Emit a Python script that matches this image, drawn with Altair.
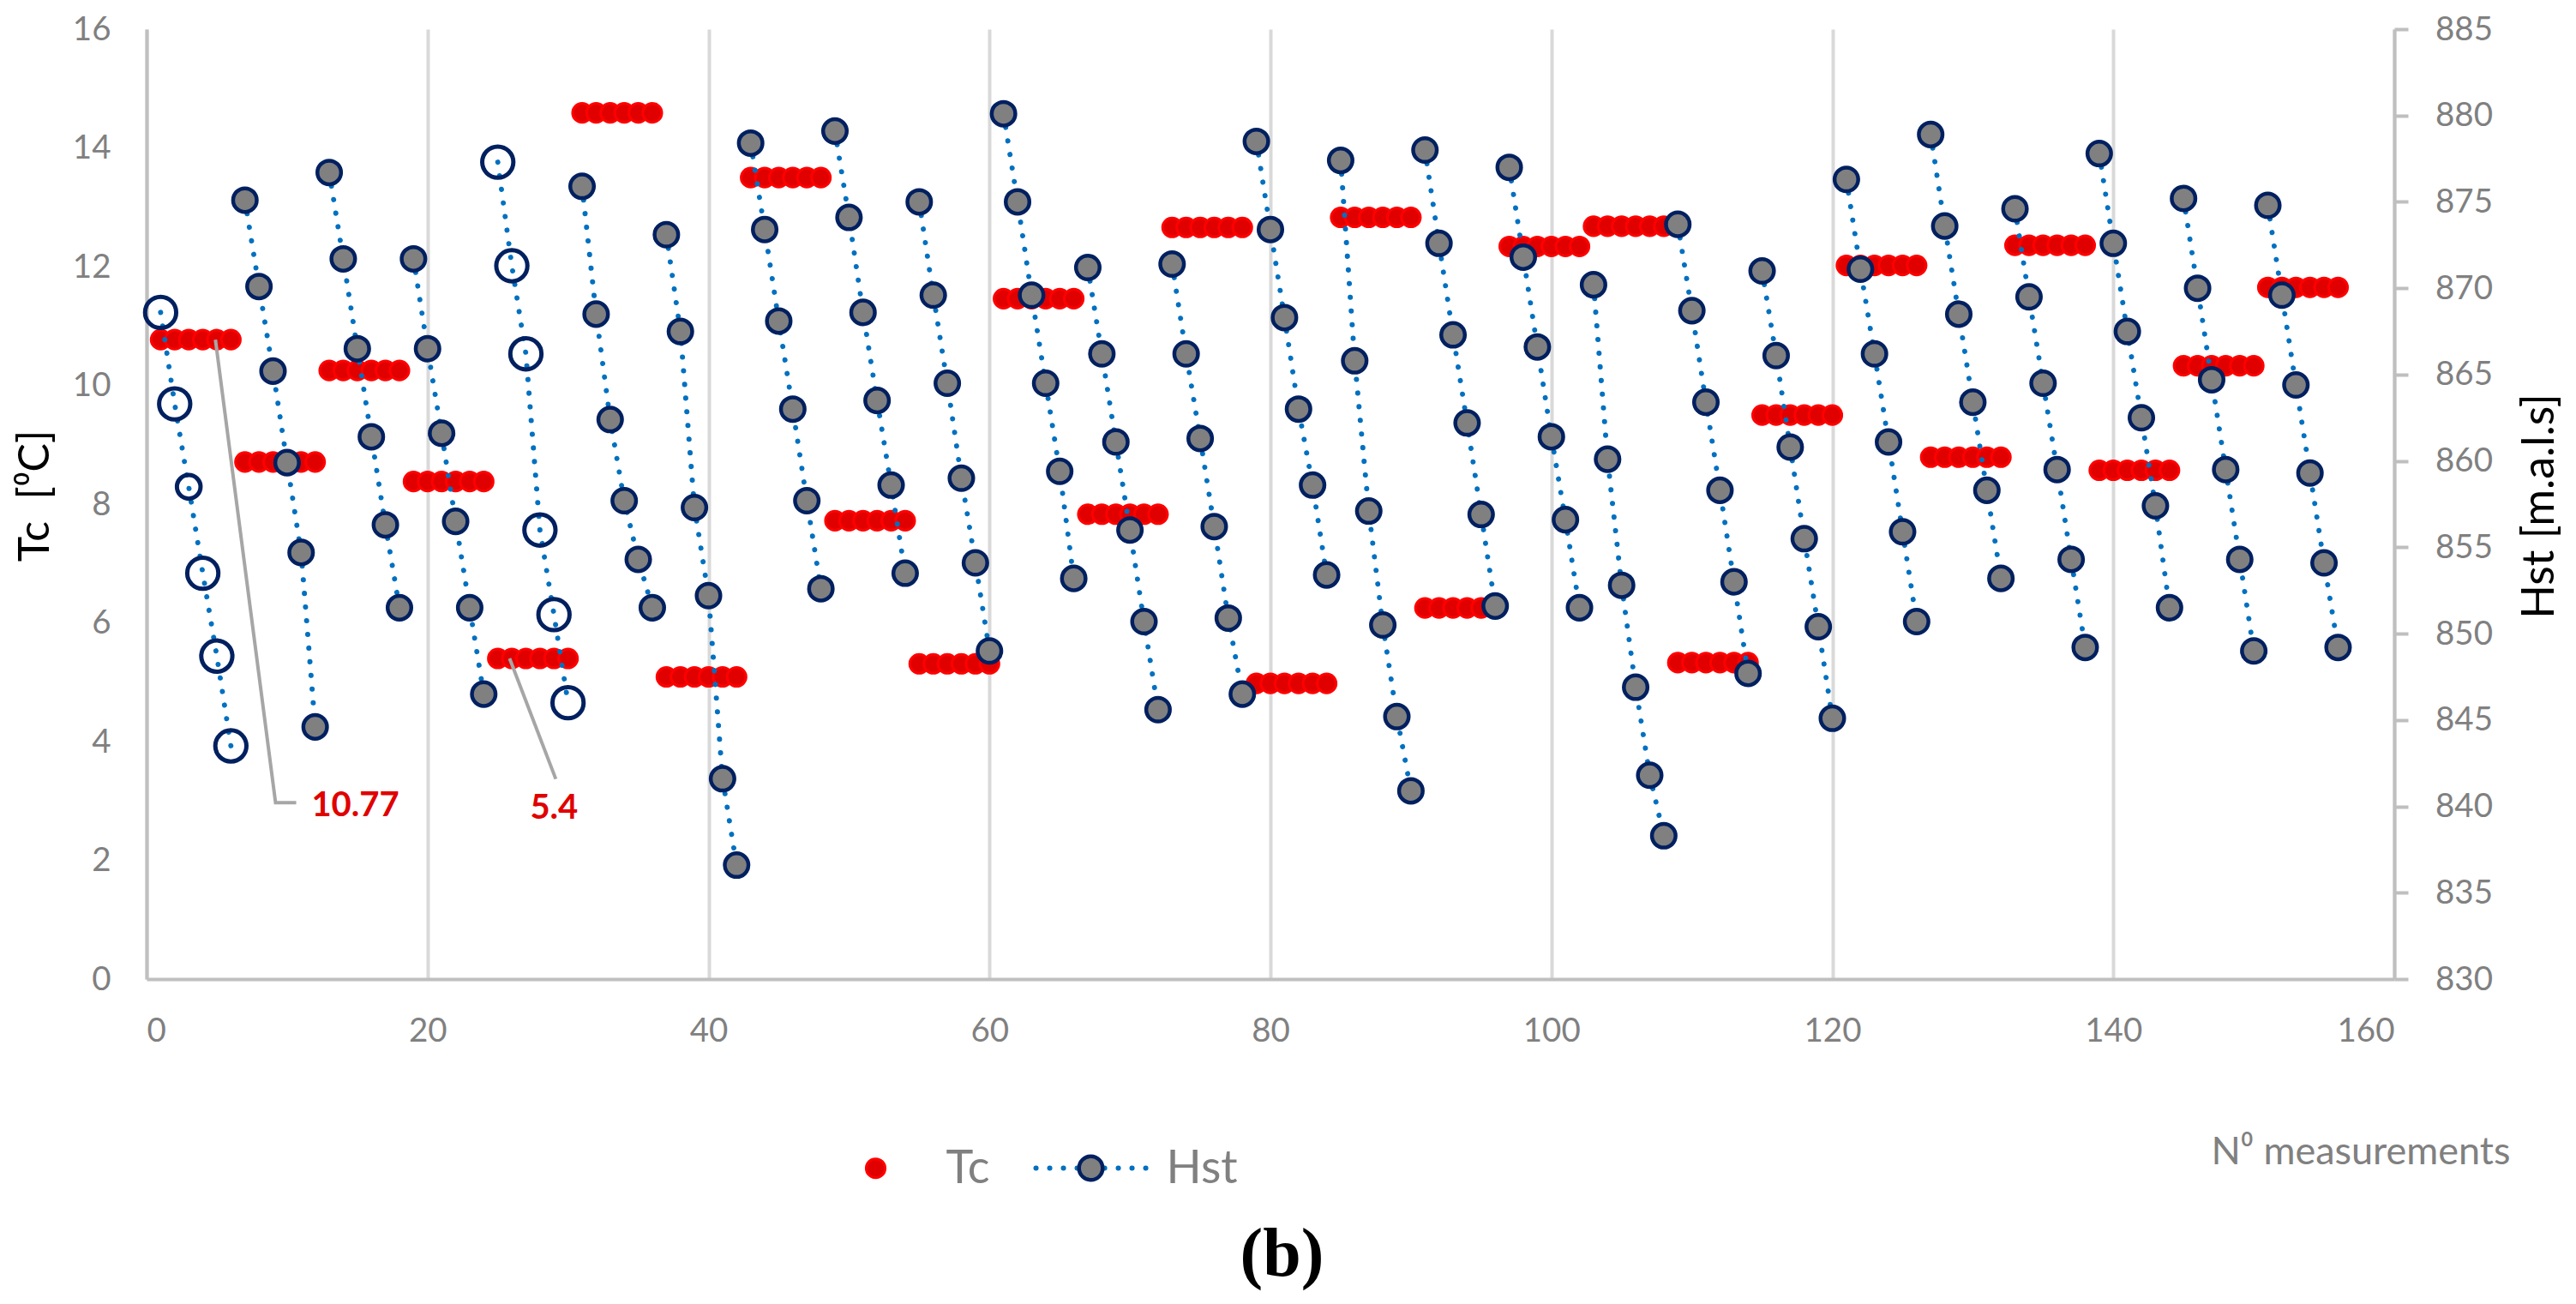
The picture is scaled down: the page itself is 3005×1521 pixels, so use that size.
import altair as alt
import pandas as pd

# ---------------- data ----------------
# Tc level of each run of 6 consecutive measurements
TC_LEVELS = [10.77, 8.71, 10.25, 8.38, 5.40, 14.59, 5.09, 13.50, 7.72, 5.31,
             11.46, 7.83, 12.66, 4.98, 12.83, 6.25, 12.34, 12.68, 5.33, 9.50,
             12.02, 8.79, 12.36, 8.57, 10.33, 11.65]
RUN_LENGTH = 6

# Hst value of every measurement (m.a.l.s)
HST = [
    868.6, 863.3, 858.5, 853.5, 848.7, 843.5,
    875.1, 870.1, 865.2, 859.9, 854.7, 844.6,
    876.7, 871.7, 866.5, 861.4, 856.3, 851.5,
    871.7, 866.5, 861.6, 856.5, 851.5, 846.5,
    877.3, 871.3, 866.2, 856.0, 851.1, 846.0,
    875.9, 868.5, 862.4, 857.7, 854.3, 851.5,
    873.1, 867.5, 857.3, 852.2, 841.6, 836.6,
    878.4, 873.4, 868.1, 863.0, 857.7, 852.6,
    879.1, 874.1, 868.6, 863.5, 858.6, 853.5,
    875.0, 869.6, 864.5, 859.0, 854.1, 849.0,
    880.1, 875.0, 869.6, 864.5, 859.4, 853.2,
    871.2, 866.2, 861.1, 856.0, 850.7, 845.6,
    871.4, 866.2, 861.3, 856.2, 850.9, 846.5,
    878.5, 873.4, 868.3, 863.0, 858.6, 853.4,
    877.4, 865.8, 857.1, 850.5, 845.2, 840.9,
    878.0, 872.6, 867.3, 862.2, 856.9, 851.6,
    877.0, 871.8, 866.6, 861.4, 856.6, 851.5,
    870.2, 860.1, 852.8, 846.9, 841.8, 838.3,
    873.7, 868.7, 863.4, 858.3, 853.0, 847.7,
    871.0, 866.1, 860.8, 855.5, 850.4, 845.1,
    876.3, 871.1, 866.2, 861.1, 855.9, 850.7,
    878.9, 873.6, 868.5, 863.4, 858.3, 853.2,
    874.6, 869.5, 864.5, 859.5, 854.3, 849.2,
    877.8, 872.6, 867.5, 862.5, 857.4, 851.5,
    875.2, 870.0, 864.7, 859.5, 854.3, 849.0,
    874.8, 869.6, 864.4, 859.3, 854.1, 849.2,
]

# measurements drawn with hollow markers
HOLLOW_LARGE = [1, 2, 4, 5, 6, 25, 26, 27, 28, 29, 30]
HOLLOW_SMALL = [3]

# data labels with their leader lines
ANNOT_TEXT = ["10.77", "5.4"]
ANNOT_X = [11.74, 27.3]
ANNOT_TC = [2.92, 2.87]
LEADER_ID = [0, 0, 0, 1, 1]
LEADER_ORDER = [0, 1, 2, 0, 1]
LEADER_X = [4.9, 9.18, 10.65, 25.84, 29.13]
LEADER_TC = [10.77, 2.97, 2.97, 5.40, 3.37]

# ---------------- tables ----------------
n = len(HST)
style = []
for i in range(1, n + 1):
    if i in HOLLOW_LARGE:
        style.append("hollow_large")
    elif i in HOLLOW_SMALL:
        style.append("hollow_small")
    else:
        style.append("filled")

df = pd.DataFrame({
    "x": list(range(1, n + 1)),
    "tc": [TC_LEVELS[(i - 1) // RUN_LENGTH] for i in range(1, n + 1)],
    "hst": HST,
    "run": [(i - 1) // RUN_LENGTH for i in range(1, n + 1)],
    "style": style,
})
ann = pd.DataFrame({"x": ANNOT_X, "tc": ANNOT_TC, "label": ANNOT_TEXT})
lead = pd.DataFrame({"x": LEADER_X, "tc": LEADER_TC, "id": LEADER_ID, "o": LEADER_ORDER})
one = pd.DataFrame({"k": [0]})

# ---------------- styling ----------------
FONT = "Lato"
GREY_TXT = "#808080"
AXIS_GREY = "#bfbfbf"
RED_FILL = "#e00000"
RED_EDGE = "#ff0000"
NAVY = "#002060"
BLUE = "#0070c0"
MARK_GREY = "#808080"

x_axis = alt.Axis(
    values=list(range(0, 161, 20)), grid=True, gridColor="#d9d9d9", gridWidth=4,
    domainColor=AXIS_GREY, domainWidth=4, ticks=False, tickSize=0,
    labelFont=FONT, labelFontSize=38.5, labelColor=GREY_TXT, labelPadding=42,
    title="N⁰ measurements", titleFont=FONT, titleFontSize=45, titleFontWeight="normal",
    titleColor=GREY_TXT, titleAlign="right", titleX=2757, titleY=215,
    titleBaseline="alphabetic",
)
X = alt.X("x:Q", scale=alt.Scale(domain=[0, 160], nice=False, zero=False), axis=x_axis)

tc_axis = alt.Axis(
    values=list(range(0, 17, 2)), grid=False, domainColor=AXIS_GREY, domainWidth=4,
    ticks=False, tickSize=0, labelFont=FONT, labelFontSize=38.5, labelColor=GREY_TXT,
    labelPadding=42, title="Tc\u00a0 [⁰C]", titleFont=FONT, titleFontSize=50,
    titleFontWeight="normal", titleColor="black", titleAngle=270, titleX=-130,
    titleY=544, titleAlign="center", titleBaseline="middle",
)
Y_TC = alt.Y("tc:Q", scale=alt.Scale(domain=[0, 16], nice=False, zero=True), axis=tc_axis)

hst_axis = alt.Axis(
    orient="right", values=list(range(830, 886, 5)), grid=False, domainColor=AXIS_GREY,
    domainWidth=4, ticks=True, tickColor=AXIS_GREY, tickWidth=4, tickSize=16,
    labelFont=FONT, labelFontSize=38.5, labelColor=GREY_TXT, labelPadding=31.5,
    title="Hst [m.a.l.s]", titleFont=FONT, titleFontSize=52, titleFontWeight="normal",
    titleColor="black", titleAngle=270, titleX=169.5, titleY=556, titleAlign="center",
    titleBaseline="middle",
)
Y_HST = alt.Y("hst:Q", scale=alt.Scale(domain=[830, 885], nice=False, zero=False), axis=hst_axis)

base = alt.Chart(df)

# ---- Tc (left scale) ----
tc_pts = base.mark_circle(size=490, fill=RED_FILL, stroke=RED_EDGE, strokeWidth=3, opacity=1).encode(x=X, y=Y_TC)
leaders = alt.Chart(lead).mark_line(color="#a6a6a6", strokeWidth=4).encode(
    x=X, y=Y_TC, detail="id:N", order="o:Q")
labels = alt.Chart(ann).mark_text(font=FONT, fontSize=40, fontWeight="bold", color=RED_FILL,
                                  align="left", baseline="middle").encode(x=X, y=Y_TC, text="label:N")
tc_layer = alt.layer(tc_pts, leaders, labels)

# ---- Hst (right scale) ----
hst_line = base.mark_line(color=BLUE, strokeWidth=6, strokeDash=[0.1, 15.9], strokeCap="round").encode(
    x=X, y=Y_HST, detail="run:N", order="x:Q")
hst_pts = base.transform_filter(alt.datum.style == "filled").mark_circle(
    size=760, fill=MARK_GREY, stroke=NAVY, strokeWidth=4.5, opacity=1).encode(x=X, y=Y_HST)
hst_hollow_l = base.transform_filter(alt.datum.style == "hollow_large").mark_point(
    shape="circle", size=1320, filled=False, color=NAVY, strokeWidth=5, opacity=1).encode(x=X, y=Y_HST)
hst_hollow_s = base.transform_filter(alt.datum.style == "hollow_small").mark_point(
    shape="circle", size=760, filled=False, color=NAVY, strokeWidth=5, opacity=1).encode(x=X, y=Y_HST)

# ---- legend and panel tag (pixel positions relative to plot area) ----
dec = alt.Chart(one)
leg_tc_dot = dec.mark_circle(size=490, fill=RED_FILL, stroke=RED_EDGE, strokeWidth=3, opacity=1).encode(
    x=alt.value(850.5), y=alt.value(1328.7))
leg_tc_txt = dec.mark_text(text="Tc", font=FONT, fontSize=54, color=GREY_TXT, align="left",
                           baseline="alphabetic").encode(x=alt.value(932.5), y=alt.value(1346))
leg_hst_line = dec.mark_rule(color=BLUE, strokeWidth=6, strokeDash=[0.1, 15.9], strokeCap="round").encode(
    x=alt.value(1037.5), x2=alt.value(1166.5), y=alt.value(1328.5))
leg_hst_dot = dec.mark_circle(size=760, fill=MARK_GREY, stroke=NAVY, strokeWidth=4.5, opacity=1).encode(
    x=alt.value(1101.5), y=alt.value(1328.5))
leg_hst_txt = dec.mark_text(text="Hst", font=FONT, fontSize=54, color=GREY_TXT, align="left",
                            baseline="alphabetic").encode(x=alt.value(1189.5), y=alt.value(1346))
tag = dec.mark_text(text="(b)", font="Liberation Serif", fontSize=80, fontWeight="bold", color="black",
                    align="center", baseline="alphabetic").encode(x=alt.value(1324.5), y=alt.value(1454))

hst_layer = alt.layer(hst_line, hst_pts, hst_hollow_l, hst_hollow_s,
                      leg_tc_dot, leg_tc_txt, leg_hst_line, leg_hst_dot, leg_hst_txt, tag)

chart = alt.layer(tc_layer, hst_layer).resolve_scale(y="independent").properties(
    width=2622, height=1108,
    padding={"left": 163, "top": 26, "right": 200, "bottom": 369},
    autosize=alt.AutoSizeParams(type="none"),
).configure_view(stroke=None)

chart.save("out.html", embed_options={"renderer": "svg", "actions": False})
